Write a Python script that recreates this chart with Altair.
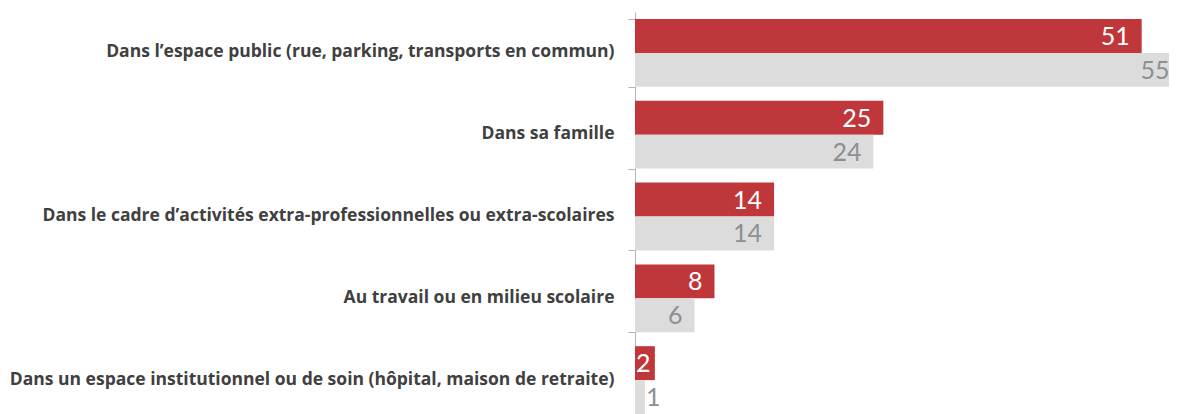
import altair as alt
import pandas as pd

categories = [
    "Dans l\u2019espace public (rue, parking, transports en commun)",
    "Dans sa famille",
    "Dans le cadre d\u2019activit\u00e9s extra-professionnelles ou extra-scolaires",
    "Au travail ou en milieu scolaire",
    "Dans un espace institutionnel ou de soin (h\u00f4pital, maison de retraite)",
]
series_names = ["S\u00e9rie 1", "S\u00e9rie 2"]
values_red = [51, 25, 14, 8, 2]
values_gray = [55, 24, 14, 6, 1]

rows = []
for c, r, g in zip(categories, values_red, values_gray):
    rows.append({"cat": c, "serie": series_names[0], "val": r})
    rows.append({"cat": c, "serie": series_names[1], "val": g})
df = pd.DataFrame(rows)

LABEL_FONT = "Open Sans"
VALUE_FONT = "Lato"

y_enc = alt.Y(
    "cat:N",
    sort=categories,
    title=None,
    scale=alt.Scale(range=[0, 409], paddingInner=0.171, paddingOuter=0.0855),
    axis=alt.Axis(
        tickBand="extent",
        tickSize=7,
        tickColor="#b4b4b4",
        domainColor="#b4b4b4",
        labelFont=LABEL_FONT,
        labelFontSize=17.5,
        labelFontWeight="bold",
        labelColor="#404040",
        labelPadding=14,
        labelLimit=800,
        labelOffset=-1,
    ),
)
yoff = alt.YOffset("serie:N", sort=series_names, scale=alt.Scale(paddingInner=0, paddingOuter=0))
x_scale = alt.Scale(domain=[0, 53.75], nice=False, zero=True)
x_enc = alt.X("val:Q", scale=x_scale, axis=None)
color_enc = alt.Color(
    "serie:N",
    scale=alt.Scale(domain=series_names, range=["#c0373b", "#dcdcdc"]),
    legend=None,
)
text_color = alt.Color(
    "serie:N",
    scale=alt.Scale(domain=series_names, range=["#ffffff", "#8c8f94"]),
    legend=None,
)

bars = alt.Chart(df).mark_bar(clip=True).encode(
    y=y_enc, yOffset=yoff, x=x_enc, color=color_enc
)

# labels that fit inside the bar end
text_in = alt.Chart(df).transform_filter("datum.val >= 2.6").mark_text(
    align="right", baseline="middle", dx=-12, dy=1, font=VALUE_FONT, fontSize=25
).encode(
    y=y_enc, yOffset=yoff, x=x_enc, text="val:Q", color=text_color
)

# labels of very short bars: start at the axis if the glyph fits, else after the bar
text_small = (
    alt.Chart(df)
    .transform_filter("datum.val < 2.6")
    .transform_calculate(lx="datum.val >= 1.6 ? 0 : datum.val")
    .mark_text(align="left", baseline="middle", dx=1, dy=1, font=VALUE_FONT, fontSize=25)
    .encode(
        y=y_enc,
        yOffset=yoff,
        x=alt.X("lx:Q", scale=x_scale, axis=None),
        text="val:Q",
        color=text_color,
    )
)

chart = (
    alt.layer(bars, text_in, text_small)
    .resolve_scale(color="independent")
    .properties(
        width=534,
        height=402,
        background="white",
        autosize=alt.AutoSizeParams(type="none"),
        padding={"left": 627, "top": 4, "right": 0, "bottom": 0},
    )
    .configure_view(stroke=None)
)

chart.save("out.html", embed_options={"renderer": "svg", "actions": False})
